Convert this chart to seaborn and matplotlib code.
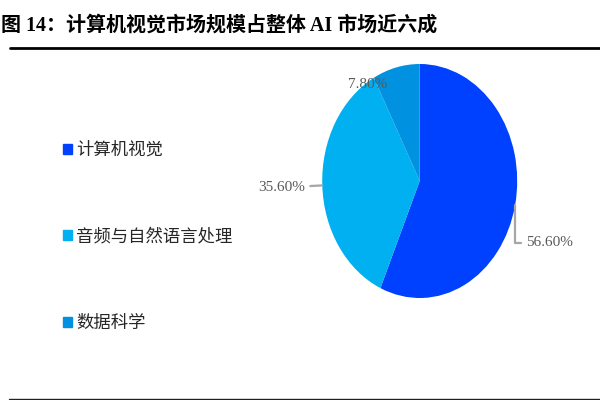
import numpy as np
import matplotlib
matplotlib.use('Agg')
import matplotlib.pyplot as plt
import matplotlib.patches as mpatches
from matplotlib.lines import Line2D
import seaborn as sns

# ── Data ────────────────────────────────────────────────────────────────────────
CATEGORIES = ['计算机视觉', '音频与自然语言处理', '数据科学']
SHARES     = [56.6, 35.6, 7.8]
COLORS     = ['#0040FF', '#00B0F0', '#0092E0']
TITLE      = '图 14：计算机视觉市场规模占整体 AI 市场近六成'

# label offsets (points) relative to the wedge's mid-point on the rim
LABEL_OFFS = [(8, -27, 'left'), (-12.5, -1.5, 'right'), (-6, -12, 'right')]
LEADER     = [True, True, False]

# ── Style ───────────────────────────────────────────────────────────────────────
sns.set_theme(style='white')
plt.rcParams['font.family'] = ['Noto Sans CJK SC', 'DejaVu Sans']
palette = sns.color_palette(COLORS)

fig = plt.figure(figsize=(6, 4), dpi=100)
fig.patch.set_facecolor('white')

# pie axes — aspect left free so the pie is drawn as an ellipse like the source
ax = fig.add_axes([0.537, 0.255, 0.325, 0.585])
wedges, _ = ax.pie(SHARES, colors=palette, startangle=90, counterclock=False,
                   radius=1, wedgeprops=dict(linewidth=0))
ax.set_aspect('auto')
ax.set_xlim(-1, 1)
ax.set_ylim(-1, 1)
ax.axis('off')

for w, val, (dx, dy, ha), lead in zip(wedges, SHARES, LABEL_OFFS, LEADER):
    mid = np.deg2rad((w.theta1 + w.theta2) / 2)
    xy = (np.cos(mid), np.sin(mid))
    arrow = None
    if lead:
        conn = 'angle,angleA=0,angleB=90,rad=0' if abs(dy) > 5 else 'arc3'
        arrow = dict(arrowstyle='-', color='#A6A6A6', lw=1.6,
                     shrinkA=1.5, shrinkB=0, connectionstyle=conn)
    ax.annotate(f'{val:.2f}%', xy=xy, xytext=(dx, dy),
                textcoords='offset points', ha=ha, va='center',
                fontsize=11, color='#595959', family='Liberation Serif',
                arrowprops=arrow, annotation_clip=False)

# legend
handles = [mpatches.Patch(color=c, label=l) for c, l in zip(palette, CATEGORIES)]
fig.legend(handles=handles, loc='upper left', bbox_to_anchor=(0.105, 0.648),
           frameon=False, fontsize=12.5, handlelength=0.5, handleheight=0.5,
           handletextpad=0.25, labelspacing=3.95, borderpad=0, borderaxespad=0,
           labelcolor='#262626')

# title and rules
fig.text(0.002, 0.937, TITLE, ha='left', va='center', fontsize=14.4,
         fontweight='bold', color='black',
         family=['Liberation Serif', 'Noto Sans CJK SC'])
fig.add_artist(Line2D([0.017, 1.0], [0.879, 0.879], color='black', lw=2.0))
fig.add_artist(Line2D([0.015, 1.0], [0.003, 0.003], color='#222222', lw=1.0))

plt.savefig('out.png', dpi=100)
